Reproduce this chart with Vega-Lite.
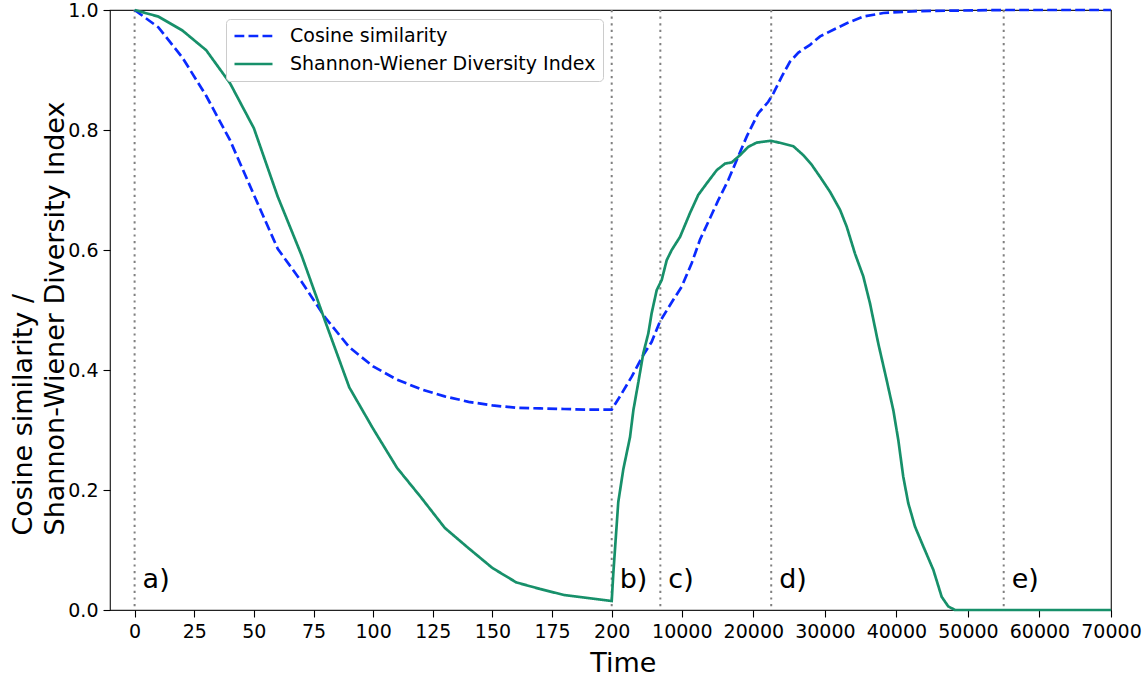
{
  "$schema": "https://vega.github.io/schema/vega-lite/v6.json",
  "width": 1001,
  "height": 600,
  "autosize": {"type": "none"},
  "padding": {"left": 110, "top": 10, "right": 35, "bottom": 68},
  "background": "white",
  "config": {
    "font": "DejaVu Sans",
    "view": {"stroke": "#222222", "strokeWidth": 1.2},
    "axis": {"grid": false, "domain": false, "tickColor": "#000000", "tickSize": 7, "tickWidth": 1.1, "labelColor": "#000000", "titleColor": "#000000", "labelFontSize": 19, "titleFontSize": 27, "titleFontWeight": "normal", "labelFont": "DejaVu Sans", "titleFont": "DejaVu Sans"}
  },
  "datasets": {
    "curves": [
      {"t": 0, "v": 1.0, "s": "Cosine similarity"},
      {"t": 10, "v": 0.971, "s": "Cosine similarity"},
      {"t": 20, "v": 0.921, "s": "Cosine similarity"},
      {"t": 30, "v": 0.857, "s": "Cosine similarity"},
      {"t": 40, "v": 0.783, "s": "Cosine similarity"},
      {"t": 50, "v": 0.692, "s": "Cosine similarity"},
      {"t": 60, "v": 0.602, "s": "Cosine similarity"},
      {"t": 70, "v": 0.547, "s": "Cosine similarity"},
      {"t": 80, "v": 0.487, "s": "Cosine similarity"},
      {"t": 90, "v": 0.438, "s": "Cosine similarity"},
      {"t": 100, "v": 0.406, "s": "Cosine similarity"},
      {"t": 110, "v": 0.384, "s": "Cosine similarity"},
      {"t": 120, "v": 0.368, "s": "Cosine similarity"},
      {"t": 130, "v": 0.356, "s": "Cosine similarity"},
      {"t": 140, "v": 0.347, "s": "Cosine similarity"},
      {"t": 150, "v": 0.341, "s": "Cosine similarity"},
      {"t": 160, "v": 0.337, "s": "Cosine similarity"},
      {"t": 170, "v": 0.336, "s": "Cosine similarity"},
      {"t": 180, "v": 0.335, "s": "Cosine similarity"},
      {"t": 190, "v": 0.334, "s": "Cosine similarity"},
      {"t": 200, "v": 0.334, "s": "Cosine similarity"},
      {"t": 1360, "v": 0.356, "s": "Cosine similarity"},
      {"t": 3000, "v": 0.389, "s": "Cosine similarity"},
      {"t": 4620, "v": 0.425, "s": "Cosine similarity"},
      {"t": 5790, "v": 0.447, "s": "Cosine similarity"},
      {"t": 6950, "v": 0.481, "s": "Cosine similarity"},
      {"t": 8810, "v": 0.517, "s": "Cosine similarity"},
      {"t": 9990, "v": 0.539, "s": "Cosine similarity"},
      {"t": 11380, "v": 0.578, "s": "Cosine similarity"},
      {"t": 12540, "v": 0.617, "s": "Cosine similarity"},
      {"t": 13940, "v": 0.653, "s": "Cosine similarity"},
      {"t": 15100, "v": 0.683, "s": "Cosine similarity"},
      {"t": 16510, "v": 0.717, "s": "Cosine similarity"},
      {"t": 17680, "v": 0.75, "s": "Cosine similarity"},
      {"t": 19070, "v": 0.789, "s": "Cosine similarity"},
      {"t": 20700, "v": 0.828, "s": "Cosine similarity"},
      {"t": 22090, "v": 0.847, "s": "Cosine similarity"},
      {"t": 22800, "v": 0.861, "s": "Cosine similarity"},
      {"t": 23970, "v": 0.889, "s": "Cosine similarity"},
      {"t": 25130, "v": 0.914, "s": "Cosine similarity"},
      {"t": 26300, "v": 0.929, "s": "Cosine similarity"},
      {"t": 27930, "v": 0.942, "s": "Cosine similarity"},
      {"t": 29330, "v": 0.956, "s": "Cosine similarity"},
      {"t": 31190, "v": 0.967, "s": "Cosine similarity"},
      {"t": 33060, "v": 0.978, "s": "Cosine similarity"},
      {"t": 35380, "v": 0.989, "s": "Cosine similarity"},
      {"t": 38180, "v": 0.995, "s": "Cosine similarity"},
      {"t": 42840, "v": 0.998, "s": "Cosine similarity"},
      {"t": 48000, "v": 0.999, "s": "Cosine similarity"},
      {"t": 55000, "v": 1.0, "s": "Cosine similarity"},
      {"t": 70000, "v": 1.0, "s": "Cosine similarity"},
      {"t": 0, "v": 1.0, "s": "Shannon-Wiener Diversity Index"},
      {"t": 10, "v": 0.989, "s": "Shannon-Wiener Diversity Index"},
      {"t": 20, "v": 0.966, "s": "Shannon-Wiener Diversity Index"},
      {"t": 30, "v": 0.933, "s": "Shannon-Wiener Diversity Index"},
      {"t": 40, "v": 0.878, "s": "Shannon-Wiener Diversity Index"},
      {"t": 50, "v": 0.803, "s": "Shannon-Wiener Diversity Index"},
      {"t": 60, "v": 0.689, "s": "Shannon-Wiener Diversity Index"},
      {"t": 70, "v": 0.591, "s": "Shannon-Wiener Diversity Index"},
      {"t": 80, "v": 0.48, "s": "Shannon-Wiener Diversity Index"},
      {"t": 90, "v": 0.371, "s": "Shannon-Wiener Diversity Index"},
      {"t": 100, "v": 0.302, "s": "Shannon-Wiener Diversity Index"},
      {"t": 110, "v": 0.237, "s": "Shannon-Wiener Diversity Index"},
      {"t": 120, "v": 0.188, "s": "Shannon-Wiener Diversity Index"},
      {"t": 130, "v": 0.137, "s": "Shannon-Wiener Diversity Index"},
      {"t": 140, "v": 0.103, "s": "Shannon-Wiener Diversity Index"},
      {"t": 150, "v": 0.07, "s": "Shannon-Wiener Diversity Index"},
      {"t": 160, "v": 0.046, "s": "Shannon-Wiener Diversity Index"},
      {"t": 170, "v": 0.035, "s": "Shannon-Wiener Diversity Index"},
      {"t": 180, "v": 0.025, "s": "Shannon-Wiener Diversity Index"},
      {"t": 190, "v": 0.02, "s": "Shannon-Wiener Diversity Index"},
      {"t": 200, "v": 0.015, "s": "Shannon-Wiener Diversity Index"},
      {"t": 420, "v": 0.06, "s": "Shannon-Wiener Diversity Index"},
      {"t": 1120, "v": 0.18, "s": "Shannon-Wiener Diversity Index"},
      {"t": 1830, "v": 0.235, "s": "Shannon-Wiener Diversity Index"},
      {"t": 2760, "v": 0.288, "s": "Shannon-Wiener Diversity Index"},
      {"t": 3230, "v": 0.333, "s": "Shannon-Wiener Diversity Index"},
      {"t": 3930, "v": 0.38, "s": "Shannon-Wiener Diversity Index"},
      {"t": 4620, "v": 0.428, "s": "Shannon-Wiener Diversity Index"},
      {"t": 5320, "v": 0.461, "s": "Shannon-Wiener Diversity Index"},
      {"t": 5790, "v": 0.495, "s": "Shannon-Wiener Diversity Index"},
      {"t": 6490, "v": 0.533, "s": "Shannon-Wiener Diversity Index"},
      {"t": 7190, "v": 0.55, "s": "Shannon-Wiener Diversity Index"},
      {"t": 7890, "v": 0.583, "s": "Shannon-Wiener Diversity Index"},
      {"t": 8590, "v": 0.6, "s": "Shannon-Wiener Diversity Index"},
      {"t": 9760, "v": 0.622, "s": "Shannon-Wiener Diversity Index"},
      {"t": 11160, "v": 0.662, "s": "Shannon-Wiener Diversity Index"},
      {"t": 12310, "v": 0.692, "s": "Shannon-Wiener Diversity Index"},
      {"t": 13480, "v": 0.711, "s": "Shannon-Wiener Diversity Index"},
      {"t": 14880, "v": 0.733, "s": "Shannon-Wiener Diversity Index"},
      {"t": 16040, "v": 0.744, "s": "Shannon-Wiener Diversity Index"},
      {"t": 16980, "v": 0.746, "s": "Shannon-Wiener Diversity Index"},
      {"t": 18140, "v": 0.758, "s": "Shannon-Wiener Diversity Index"},
      {"t": 19300, "v": 0.772, "s": "Shannon-Wiener Diversity Index"},
      {"t": 20470, "v": 0.779, "s": "Shannon-Wiener Diversity Index"},
      {"t": 22430, "v": 0.782, "s": "Shannon-Wiener Diversity Index"},
      {"t": 23970, "v": 0.778, "s": "Shannon-Wiener Diversity Index"},
      {"t": 25590, "v": 0.773, "s": "Shannon-Wiener Diversity Index"},
      {"t": 26990, "v": 0.758, "s": "Shannon-Wiener Diversity Index"},
      {"t": 28160, "v": 0.742, "s": "Shannon-Wiener Diversity Index"},
      {"t": 29320, "v": 0.722, "s": "Shannon-Wiener Diversity Index"},
      {"t": 30720, "v": 0.697, "s": "Shannon-Wiener Diversity Index"},
      {"t": 32120, "v": 0.667, "s": "Shannon-Wiener Diversity Index"},
      {"t": 33050, "v": 0.639, "s": "Shannon-Wiener Diversity Index"},
      {"t": 34210, "v": 0.594, "s": "Shannon-Wiener Diversity Index"},
      {"t": 35370, "v": 0.556, "s": "Shannon-Wiener Diversity Index"},
      {"t": 36310, "v": 0.511, "s": "Shannon-Wiener Diversity Index"},
      {"t": 37470, "v": 0.444, "s": "Shannon-Wiener Diversity Index"},
      {"t": 38640, "v": 0.383, "s": "Shannon-Wiener Diversity Index"},
      {"t": 39570, "v": 0.333, "s": "Shannon-Wiener Diversity Index"},
      {"t": 40270, "v": 0.283, "s": "Shannon-Wiener Diversity Index"},
      {"t": 40960, "v": 0.222, "s": "Shannon-Wiener Diversity Index"},
      {"t": 41660, "v": 0.178, "s": "Shannon-Wiener Diversity Index"},
      {"t": 42600, "v": 0.139, "s": "Shannon-Wiener Diversity Index"},
      {"t": 43760, "v": 0.106, "s": "Shannon-Wiener Diversity Index"},
      {"t": 45160, "v": 0.067, "s": "Shannon-Wiener Diversity Index"},
      {"t": 46330, "v": 0.022, "s": "Shannon-Wiener Diversity Index"},
      {"t": 47250, "v": 0.006, "s": "Shannon-Wiener Diversity Index"},
      {"t": 48190, "v": 0.0, "s": "Shannon-Wiener Diversity Index"},
      {"t": 70000, "v": 0.0, "s": "Shannon-Wiener Diversity Index"}
    ],
    "phases": [
      {"t": 0, "lab": "a)", "y": 0.05},
      {"t": 200, "lab": "b)", "y": 0.05},
      {"t": 7000, "lab": "c)", "y": 0.05},
      {"t": 22500, "lab": "d)", "y": 0.05},
      {"t": 55000, "lab": "e)", "y": 0.05}
    ]
  },
  "layer": [
    {
      "data": {"name": "phases"},
      "mark": {"type": "rule", "color": "#808080", "strokeWidth": 2, "strokeDash": [2.2, 4.4]},
      "encoding": {
        "x": {"field": "t", "type": "quantitative"}
      }
    },
    {
      "data": {"name": "phases"},
      "mark": {"type": "text", "align": "left", "baseline": "middle", "dx": 8, "fontSize": 27, "font": "DejaVu Sans", "color": "#000000"},
      "encoding": {
        "x": {"field": "t", "type": "quantitative"},
        "y": {"field": "y", "type": "quantitative"},
        "text": {"field": "lab"}
      }
    },
    {
      "data": {"name": "curves"},
      "mark": {"type": "line", "strokeWidth": 2.7},
      "encoding": {
        "x": {
          "field": "t", "type": "quantitative",
          "scale": {"domain": [0, 200, 70000], "range": [24.6, 501.7, 1001], "nice": false, "zero": false},
          "axis": {"title": "Time", "values": [0, 25, 50, 75, 100, 125, 150, 175, 200, 10000, 20000, 30000, 40000, 50000, 60000, 70000], "format": "d", "labelPadding": 5, "titleY": 61.5, "titleBaseline": "alphabetic", "labelFlush": false, "labelOverlap": false}
        },
        "y": {
          "field": "v", "type": "quantitative",
          "scale": {"domain": [0, 1], "nice": false, "zero": false},
          "axis": {"title": ["Cosine similarity /", "Shannon-Wiener Diversity Index"], "values": [0, 0.2, 0.4, 0.6, 0.8, 1.0], "format": ".1f", "labelPadding": 5, "titleAngle": -90, "titleX": -79, "titleY": 525, "titleAlign": "left", "titleBaseline": "alphabetic", "titleLineHeight": 32, "labelFlush": false}
        },
        "color": {
          "field": "s", "type": "nominal",
          "scale": {"domain": ["Cosine similarity", "Shannon-Wiener Diversity Index"], "range": ["#0a2aff", "#17906a"]},
          "legend": {"title": null, "orient": "none", "legendX": 116, "legendY": 9, "symbolType": "stroke", "symbolSize": 1444, "symbolStrokeWidth": 2.7, "labelFontSize": 19, "labelFont": "DejaVu Sans", "labelColor": "#000000", "labelOffset": 16, "fillColor": "white", "strokeColor": "#cccccc", "cornerRadius": 4, "padding": 7, "rowPadding": 8, "clipHeight": 20, "labelLimit": 500}
        },
        "strokeDash": {
          "field": "s", "type": "nominal",
          "scale": {"domain": ["Cosine similarity", "Shannon-Wiener Diversity Index"], "range": [[9.8, 4.2], [1, 0]]},
          "legend": {"title": null, "orient": "none", "legendX": 116, "legendY": 9, "symbolType": "stroke", "symbolSize": 1444, "symbolStrokeWidth": 2.7, "labelFontSize": 19, "labelFont": "DejaVu Sans", "labelColor": "#000000", "labelOffset": 16, "fillColor": "white", "strokeColor": "#cccccc", "cornerRadius": 4, "padding": 7, "rowPadding": 8, "clipHeight": 20, "labelLimit": 500}
        }
      }
    }
  ]
}
